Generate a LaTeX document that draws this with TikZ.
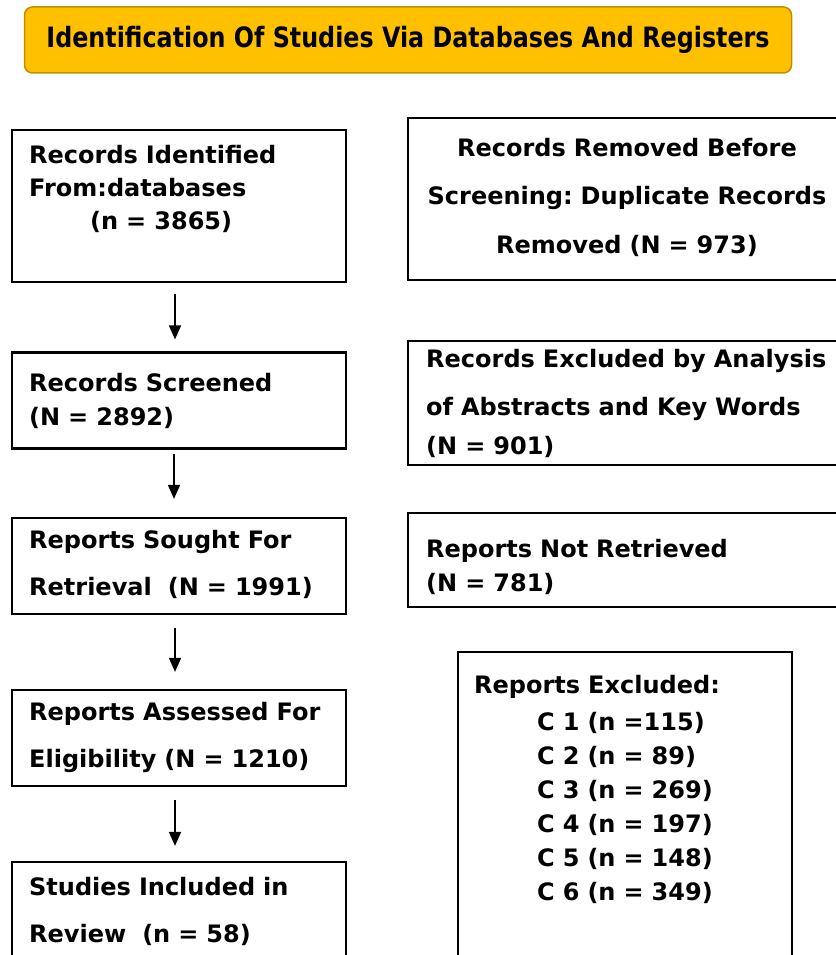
\documentclass[tikz,border=0pt]{standalone}
\usepackage{fontspec}
\setmainfont{DejaVu Sans}
\newfontfamily\titlefont{DejaVu Sans}[FakeStretch=0.85]
\definecolor{gold}{HTML}{FFC000}
\definecolor{golddark}{HTML}{BF9000}
\usetikzlibrary{arrows.meta}

\begin{document}
\begin{tikzpicture}[x=1pt, y=-1pt,
  every node/.style={font=\bfseries\fontsize{24}{33}\selectfont},
  box/.style={draw, line width=2.2pt, minimum width=334pt, inner sep=0pt},
  txt/.style={anchor=base west, inner sep=0pt, text width=600pt, align=left},
  arr/.style={-{Triangle[length=14pt,width=12pt]}, line width=1.6pt}]

  \useasboundingbox (0,0) rectangle (835,955);

  % Title banner
  \node[draw=golddark, fill=gold, line width=1.5pt, rounded corners=8pt, minimum width=767pt, minimum height=66pt, font=\titlefont\bfseries\fontsize{28}{30}\selectfont] (title) at (408,40) {Identification Of Studies Via Databases And Registers};

  % Left column boxes
  \node[box, minimum height=152pt] (ident) at (179,206) {};
  \node[box, minimum height=96pt] (screen) at (179,400.5) {};
  \node[box, minimum height=96pt] (sought) at (179,566) {};
  \node[box, minimum height=96pt] (assess) at (179,738) {};
  \node[box, minimum height=110pt] (incl) at (179,917) {};

  % Right column boxes
  \node[box, minimum width=444pt, minimum height=162pt] (dupl) at (630,199) {};
  \node[box, minimum width=444pt, minimum height=124pt] (abstr) at (630,403) {};
  \node[box, minimum width=444pt, minimum height=94pt] (notret) at (630,560) {};
  \node[box, minimum height=320pt] (excl) at (625,812) {};

  % Texts inside the left boxes
  \node[txt] (identtxt) at (29,163) {Records Identified\\From:databases\\\hspace*{61pt}(n = 3865)};
  \node[txt, font=\bfseries\fontsize{24}{34}\selectfont] (screentxt) at (29,391) {Records Screened\\(N = 2892)};
  \node[txt, font=\bfseries\fontsize{24}{47}\selectfont] (soughttxt) at (29,548) {Reports Sought For\\Retrieval\ \ (N = 1991)};
  \node[txt, font=\bfseries\fontsize{24}{47}\selectfont] (assesstxt) at (29,720) {Reports Assessed For\\Eligibility (N = 1210)};
  \node[txt, font=\bfseries\fontsize{24}{47}\selectfont] (incltxt) at (29,895) {Studies Included in\\Review\ \ (n = 58)};

  % Texts inside the right boxes
  \node[txt, anchor=base, align=center, font=\bfseries\fontsize{24}{48.5}\selectfont] (dupltxt) at (627,156) {Records Removed Before\\Screening:\ Duplicate Records\\Removed (N = 973)};
  \node[txt, font=\bfseries\fontsize{24}{48}\selectfont] (abstrtxt) at (426,367) {Records Excluded by Analysis\\of Abstracts and Key Words\\[-9pt](N = 901)};
  \node[txt, font=\bfseries\fontsize{24}{34}\selectfont] (notrettxt) at (426,557) {Reports Not Retrieved\\(N = 781)};
  \node[txt, font=\bfseries\fontsize{24}{34}\selectfont] (excltxt) at (474,693) {Reports Excluded:\\[3pt]
    \hspace*{63pt}C 1 (n =115)\\\hspace*{63pt}C 2 (n = 89)\\\hspace*{63pt}C 3 (n = 269)\\
    \hspace*{63pt}C 4 (n = 197)\\\hspace*{63pt}C 5 (n = 148)\\\hspace*{63pt}C 6 (n = 349)};

  % Downward arrows between the left boxes
  \draw[arr, shorten <=11pt, shorten >=12pt] ([xshift=-4pt]ident.south) -- ([xshift=-4pt]screen.north);
  \draw[arr, shorten <=4pt, shorten >=18pt] ([xshift=-5pt]screen.south) -- ([xshift=-5pt]sought.north);
  \draw[arr, shorten <=13pt, shorten >=17pt] ([xshift=-4pt]sought.south) -- ([xshift=-4pt]assess.north);
  \draw[arr, shorten <=13pt, shorten >=15pt] ([xshift=-4pt]assess.south) -- ([xshift=-4pt]incl.north);
\end{tikzpicture}
\end{document}
